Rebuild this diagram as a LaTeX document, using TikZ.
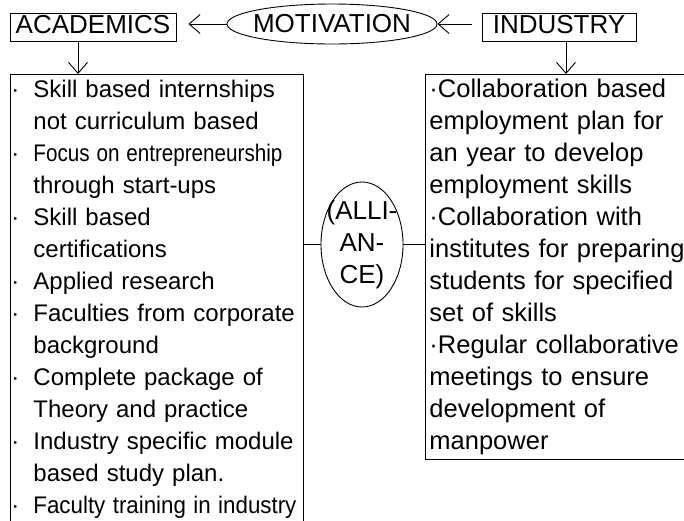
\documentclass[tikz,border=0pt]{standalone}
\usepackage{fontspec}
\setmainfont{Liberation Sans}
\usepackage{graphicx}
\usetikzlibrary{shapes.geometric, arrows.meta}
\tikzset{
  heading/.style={rectangle, draw=black, line width=0.9pt, minimum width=#1, minimum height=28pt, inner sep=0pt, text depth=6pt, font=\fontsize{26pt}{32pt}\selectfont},
  hub/.style={ellipse, draw=black, line width=0.9pt, inner sep=0pt, align=center, font=\fontsize{26pt}{32pt}\selectfont},
  listbox/.style={rectangle, draw=black, line width=0.9pt, inner ysep=0.6pt, align=left, anchor=north west},
  link/.style={line width=0.9pt},
  arrow/.style={line width=0.9pt, -{Straight Barb[length=11pt,width=19pt]}}
}
\newcommand{\bulletmark}{\makebox[22pt][l]{\textperiodcentered}}
\newcommand{\contline}{\hspace*{22pt}}

\begin{document}
\begin{tikzpicture}[
        x=1pt, y=-1pt % <-- one point per pixel, y going down
    ]
        \useasboundingbox (0,0) rectangle (684,520);
        \clip (0,0) rectangle (684,520);

        \node (academics) [heading=166pt] at (93,27) {ACADEMICS};
        \node (motivation) [hub, minimum width=210pt, minimum height=40pt] at (332,24) {\makebox[148pt]{MOTIVATION}};
        \node (industry) [heading=154pt] at (559,27) {INDUSTRY};

        \node (leftbox) [listbox, inner xsep=1pt, text width=291pt, font=\fontsize{24pt}{32pt}\selectfont] at (10,74) {%
          \strut\bulletmark Skill based internships\\
          \contline not curriculum based\\
          \bulletmark\scalebox{0.86}[1]{Focus on entrepreneurship}\\
          \contline through start-ups\\
          \bulletmark Skill based\\
          \contline certifications\\
          \bulletmark Applied research\\
          \bulletmark Faculties from corporate\\
          \contline background\\
          \bulletmark Complete package of\\
          \contline Theory and practice\\
          \bulletmark Industry specific module\\
          \contline based study plan.\\
          \bulletmark\scalebox{0.93}[1]{Faculty training in industry}\strut};
        \node (rightbox) [listbox, inner xsep=4pt, text width=267pt, font=\fontsize{25.5pt}{32pt}\selectfont] at (425,74) {%
          \strut\textperiodcentered Collaboration based\\
          employment plan for\\
          an year to develop\\
          employment skills\\
          \textperiodcentered Collaboration with\\
          institutes for preparing\\
          students for specified\\
          set of skills\\
          \textperiodcentered Regular collaborative\\
          meetings to ensure\\
          development of\\
          manpower\strut};
        \node (alliance) [hub, minimum height=125pt] at (362,244.5) {\makebox[58pt]{(ALLI-}\\\makebox[58pt]{AN-}\\\makebox[58pt]{CE)}};

        \draw [arrow, shorten >=12pt] (motivation.west) -- (academics.east |- motivation.west);
        \draw [arrow, shorten <=10pt] (industry.west |- motivation.east) -- (motivation.east);
        \draw [arrow] ([xshift=-15pt]academics.south) -- ([xshift=-15pt]academics.south |- leftbox.north);
        \draw [arrow] ([xshift=7pt]industry.south) -- ([xshift=7pt]industry.south |- rightbox.north);
        \draw [link] (leftbox.east |- alliance.west) -- (alliance.west);
        \draw [link] (alliance.east) -- (rightbox.west |- alliance.east);
    \end{tikzpicture}
\end{document}
